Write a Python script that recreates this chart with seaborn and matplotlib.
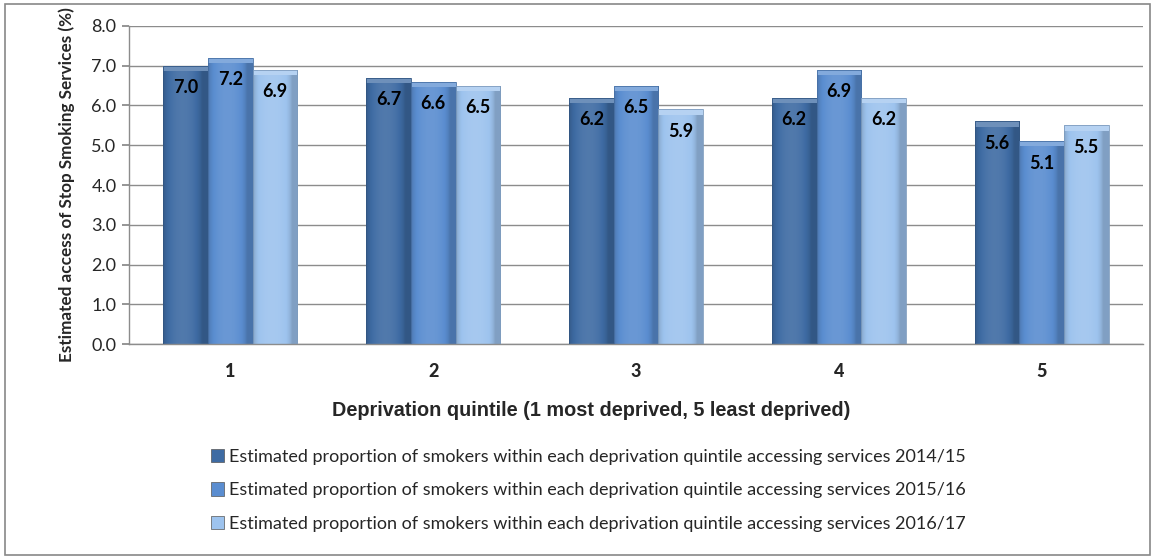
import matplotlib
matplotlib.use("Agg")
import matplotlib.pyplot as plt
from matplotlib.patches import Rectangle, Patch
from matplotlib.colors import to_rgb
import numpy as np
import seaborn as sns
import pandas as pd

# Deprivation quintiles and estimated access (%) per financial year
quintiles = ["1", "2", "3", "4", "5"]
years = ["2014/15", "2015/16", "2016/17"]
access_2014_15 = [7.0, 6.7, 6.2, 6.2, 5.6]
access_2015_16 = [7.2, 6.6, 6.5, 6.9, 5.1]
access_2016_17 = [6.9, 6.5, 5.9, 6.2, 5.5]
series_labels = [
    "Estimated proportion of smokers within each deprivation quintile accessing services " + y
    for y in years
]
colors = ["#3E6BA3", "#5A8DD0", "#9DC3EE"]

df = pd.DataFrame({
    "quintile": quintiles * 3,
    "series": sum([[s] * len(quintiles) for s in series_labels], []),
    "value": access_2014_15 + access_2015_16 + access_2016_17,
})

sns.set_theme(style="white")
plt.rcParams["font.family"] = ["Lato", "DejaVu Sans"]

fig = plt.figure(figsize=(11.56, 5.59), dpi=100)
ax = fig.add_axes([0.1116, 0.3846, 0.8772, 0.5689])

sns.barplot(data=df, x="quintile", y="value", hue="series", order=quintiles,
            hue_order=series_labels, palette=colors, width=0.66, ax=ax,
            saturation=1, legend=False, edgecolor="none", errorbar=None)


def shade(rgb, f):
    rgb = np.array(rgb)
    return np.clip(rgb * f if f < 1 else rgb + (1 - rgb) * (f - 1), 0, 1)


# Shaded fill, top bevel and value label for each bar
for container in ax.containers:
    for bar in container:
        h = bar.get_height()
        x0, w = bar.get_x(), bar.get_width()
        base = to_rgb(bar.get_facecolor()[:3])
        t = np.linspace(0, 1, 64)
        prof = 0.82 + 0.30 * np.sin(np.pi * np.clip(t * 1.15, 0, 1)) ** 0.6
        grad = np.array([shade(base, p) if p < 1 else shade(base, 1 + (p - 1) * 0.8)
                         for p in prof])[None, :, :]
        im = ax.imshow(grad, extent=(x0, x0 + w, 0, h), aspect="auto",
                       zorder=2.5, interpolation="bicubic")
        im.set_clip_path(bar)
        ax.add_patch(Rectangle((x0, h - 0.13), w, 0.13,
                               facecolor=shade(base, 1.25), edgecolor="none", zorder=3))
        ax.add_patch(Rectangle((x0, 0), w, h, facecolor="none",
                               edgecolor=shade(base, 0.8), linewidth=0.6, zorder=3.2))
        ax.text(x0 + w / 2, h - 0.55, f"{h:.1f}", ha="center", va="center",
                fontsize=13, fontweight="bold", color="black", zorder=4)

ax.set_ylim(0, 8)
ax.set_yticks(range(0, 9))
ax.set_yticklabels([f"{v:.1f}" for v in range(0, 9)], fontsize=13)
ax.set_xlim(-0.5, 4.5)
ax.set_xticks(range(5))
ax.set_xticklabels(quintiles, fontsize=13)
plt.setp(ax.get_xticklabels(), fontweight="black")
ax.set_xticks([i + 0.5 for i in range(-1, 5)], minor=True)
ax.tick_params(axis="x", which="major", length=0, pad=14)
ax.tick_params(axis="x", which="minor", length=5, color="#888888", direction="out")
ax.tick_params(axis="y", length=5, color="#888888", direction="out", left=True, pad=4)

ax.yaxis.grid(True, color="#8c8c8c", linewidth=1)
ax.set_axisbelow(True)
for side in ["top", "right"]:
    ax.spines[side].set_visible(False)
for side in ["left", "bottom"]:
    ax.spines[side].set_color("#8c8c8c")
    ax.spines[side].set_linewidth(1)

ax.set_ylabel("Estimated access of Stop Smoking Services (%)", fontsize=12.3,
              fontweight="bold", labelpad=12)
ax.set_xlabel("Deprivation quintile (1 most deprived, 5 least deprived)", fontsize=14.3,
              fontweight="bold", family=["Liberation Sans", "DejaVu Sans"])
ax.xaxis.set_label_coords(0.456, -0.178)

handles = [Patch(facecolor=c, edgecolor="#555555", linewidth=0.5) for c in colors]
fig.legend(handles, series_labels, loc="upper left", bbox_to_anchor=(0.176, 0.21),
           frameon=False, fontsize=13, handlelength=0.75, handleheight=0.75,
           handletextpad=0.25, labelspacing=0.97, borderaxespad=0)

# Outer chart frame
fig.add_artist(Rectangle((0.004, 0.008), 0.991, 0.985, transform=fig.transFigure,
                         fill=False, edgecolor="#888888", linewidth=1.2))

fig.savefig("out.png", dpi=100)
